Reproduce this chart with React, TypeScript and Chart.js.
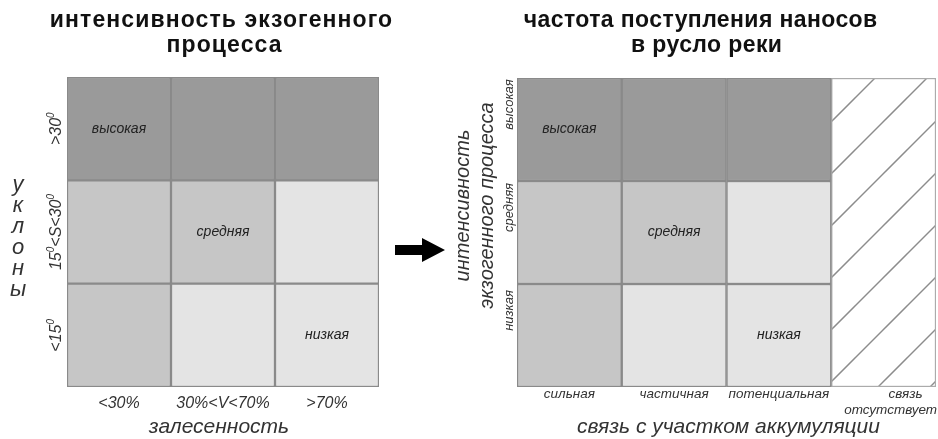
import React, { useEffect, useRef } from 'react';
import { Chart, registerables } from 'chart.js';

Chart.register(...registerables);

// ---------- data ----------
const forestCover = ['<30%', '30%<V<70%', '>70%'];
const slopeClasses = ['<15⁰', '15⁰<S<30⁰', '>30⁰']; // bottom → top
const intensityClasses = ['низкая', 'средняя', 'высокая']; // bottom → top
const connectionClasses: (string | string[])[] = ['сильная', 'частичная', 'потенциальная', ['связь', 'отсутствует']];
const levelNames = ['', 'низкая', 'средняя', 'высокая'];

// intensity level per cell (1 low, 2 medium, 3 high), rows bottom → top
const intensityRowLow = [2, 1, 1];
const intensityRowMid = [2, 2, 1];
const intensityRowHigh = [3, 3, 3];

// supply frequency level per cell (0 = no connection)
const supplyRowLow = [2, 1, 1, 0];
const supplyRowMid = [2, 2, 1, 0];
const supplyRowHigh = [3, 3, 3, 0];

const labelledCells = [
  { col: 0, row: 2 },
  { col: 1, row: 1 },
  { col: 2, row: 0 },
];

// ---------- styles ----------
const levelColors = ['#ffffff', '#e4e4e4', '#c6c6c6', '#9a9a9a'];
const gridColor = '#8a8a8a';
const FONT = '"Liberation Sans", Arial, sans-serif';

function txt(ctx: CanvasRenderingContext2D, s: string, x: number, y: number, font: string, color: string, rot = 0, spacing = 0) {
  ctx.save();
  ctx.translate(x, y);
  ctx.rotate(rot);
  ctx.font = font;
  ctx.fillStyle = color;
  ctx.textAlign = 'center';
  ctx.textBaseline = 'middle';
  (ctx as any).letterSpacing = `${spacing}px`;
  ctx.fillText(s, spacing / 2, 0);
  ctx.restore();
}

function drawRich(ctx: CanvasRenderingContext2D, text: string, x: number, y: number, size: number, rot: number, color: string) {
  ctx.save();
  ctx.translate(x, y);
  ctx.rotate(rot);
  ctx.fillStyle = color;
  const normal = `italic ${size}px ${FONT}`;
  const small = `italic ${Math.round(size * 0.62)}px ${FONT}`;
  const parts: { t: string; sup: boolean; w: number }[] = [];
  for (const ch of Array.from(text)) {
    const sup = ch === '⁰';
    const t = sup ? '0' : ch;
    const last = parts[parts.length - 1];
    if (last && last.sup === sup) last.t += t;
    else parts.push({ t, sup, w: 0 });
  }
  let total = 0;
  for (const p of parts) {
    ctx.font = p.sup ? small : normal;
    p.w = ctx.measureText(p.t).width;
    total += p.w;
  }
  let cx = -total / 2;
  ctx.textAlign = 'left';
  ctx.textBaseline = 'alphabetic';
  const base = size * 0.36;
  for (const p of parts) {
    ctx.font = p.sup ? small : normal;
    ctx.fillText(p.t, cx, p.sup ? base - size * 0.45 : base);
    cx += p.w;
  }
  ctx.restore();
}

function cellLabels(chart: any, rows: number[][]) {
  const { ctx, scales } = chart;
  for (const c of labelledCells) {
    const level = rows[c.row][c.col];
    txt(ctx, levelNames[level], scales.x.getPixelForValue(c.col), scales.y.getPixelForValue(c.row + 0.5), `italic 14px ${FONT}`, '#222');
  }
}

const leftRows = [intensityRowLow, intensityRowMid, intensityRowHigh];
const rightRows = [supplyRowLow, supplyRowMid, supplyRowHigh];

const leftPlugin = {
  id: 'leftTexts',
  afterDraw(chart: any) {
    const { ctx, chartArea: a, scales } = chart;
    const cx = (a.left + a.right) / 2;
    const midY = (a.top + a.bottom) / 2;
    txt(ctx, 'интенсивность экзогенного', cx - 2, 21, `bold 23px ${FONT}`, '#111', 0, 1.1);
    txt(ctx, 'процесса', cx + 1, 46, `bold 23px ${FONT}`, '#111', 0, 1.1);
    slopeClasses.forEach((s, i) => {
      drawRich(ctx, s, a.left - 12, scales.y.getPixelForValue(i + 0.5), 16, -Math.PI / 2, '#333');
    });
    const letters = Array.from('уклоны');
    letters.forEach((l, i) => {
      txt(ctx, l, 18, midY + 5 + (i - (letters.length - 1) / 2) * 21, `italic 22px ${FONT}`, '#333');
    });
    forestCover.forEach((s, i) => {
      txt(ctx, s, scales.x.getPixelForValue(i), a.bottom + 17, `italic 16px ${FONT}`, '#333');
    });
    txt(ctx, 'залесенность', cx - 4, a.bottom + 40, `italic 21px ${FONT}`, '#333');
    cellLabels(chart, leftRows);
    // arrow
    const ax = a.right + 16;
    const ay = midY + 18;
    ctx.save();
    ctx.fillStyle = '#000';
    ctx.beginPath();
    ctx.moveTo(ax, ay - 5);
    ctx.lineTo(ax + 27, ay - 5);
    ctx.lineTo(ax + 27, ay - 12);
    ctx.lineTo(ax + 50, ay);
    ctx.lineTo(ax + 27, ay + 12);
    ctx.lineTo(ax + 27, ay + 5);
    ctx.lineTo(ax, ay + 5);
    ctx.closePath();
    ctx.fill();
    ctx.restore();
  },
};

const rightPlugin = {
  id: 'rightTexts',
  afterDraw(chart: any) {
    const { ctx, chartArea: a, scales } = chart;
    const cx = (a.left + a.right) / 2;
    const midY = (a.top + a.bottom) / 2;
    txt(ctx, 'частота поступления наносов', cx - 26, 21, `bold 23px ${FONT}`, '#111', 0, 0.4);
    txt(ctx, 'в русло реки', cx - 20, 46, `bold 23px ${FONT}`, '#111', 0, 0.4);
    txt(ctx, 'интенсивность', a.left - 54, midY - 27, `italic 20px ${FONT}`, '#333', -Math.PI / 2);
    txt(ctx, 'экзогенного процесса', a.left - 30, midY - 27, `italic 20px ${FONT}`, '#333', -Math.PI / 2);
    intensityClasses.forEach((s, i) => {
      txt(ctx, s, a.left - 8, scales.y.getPixelForValue(i + 0.5) - 25, `italic 13px ${FONT}`, '#333', -Math.PI / 2);
    });
    connectionClasses.forEach((s, i) => {
      const x = scales.x.getPixelForValue(i);
      if (Array.isArray(s)) {
        txt(ctx, s[0], x + 22, a.bottom + 7, `italic 13.5px ${FONT}`, '#333');
        txt(ctx, s[1], x + 7, a.bottom + 23, `italic 13.5px ${FONT}`, '#333');
      } else {
        txt(ctx, s, x, a.bottom + 7, `italic 13.5px ${FONT}`, '#333');
      }
    });
    txt(ctx, 'связь с участком аккумуляции', cx + 2, a.bottom + 40, `italic 21px ${FONT}`, '#333');
    cellLabels(chart, rightRows);
  },
};

function makeHatch(): CanvasPattern | string {
  const t = document.createElement('canvas');
  t.width = 52;
  t.height = 52;
  const c = t.getContext('2d');
  if (!c) return '#fff';
  c.fillStyle = '#ffffff';
  c.fillRect(0, 0, 52, 52);
  c.strokeStyle = '#8c8c8c';
  c.lineWidth = 1.5;
  for (const k of [-15, 37, 89, 141]) {
    c.beginPath();
    c.moveTo(k + 2, -2);
    c.lineTo(-2, k + 2);
    c.stroke();
  }
  const p = c.createPattern(t, 'repeat');
  return p || '#fff';
}

function buildDatasets(rows: number[][]) {
  return rows.map((row, r) => ({
    data: row.map((lvl) => (lvl > 0 ? [r, r + 1] : null)),
    backgroundColor: row.map((lvl) => levelColors[lvl]),
    borderColor: gridColor,
    borderWidth: 1.5,
    borderSkipped: false as const,
    grouped: false,
    barPercentage: 1,
    categoryPercentage: 1,
  }));
}

function baseOptions(padding: any) {
  return {
    responsive: false,
    animation: false as const,
    layout: { padding },
    plugins: { legend: { display: false }, tooltip: { enabled: false }, title: { display: false } },
    scales: {
      x: { display: false, offset: true, grid: { display: false } },
      y: { display: false, min: 0, max: 3, grid: { display: false } },
    },
  };
}

export default function App() {
  const leftRef = useRef<HTMLCanvasElement>(null);
  const rightRef = useRef<HTMLCanvasElement>(null);

  useEffect(() => {
    if (!leftRef.current || !rightRef.current) return;
    const left = new Chart(leftRef.current, {
      type: 'bar',
      data: { labels: forestCover, datasets: buildDatasets(leftRows) as any },
      options: baseOptions({ left: 67, top: 77, right: 69, bottom: 52 }) as any,
      plugins: [leftPlugin],
    });

    const hatchRows = supplyRowLow.map((lvl) => (lvl === 0 ? [0, 3] : null));
    const right = new Chart(rightRef.current, {
      type: 'bar',
      data: {
        labels: connectionClasses.map((c) => (Array.isArray(c) ? c.join(' ') : c)),
        datasets: [
          ...(buildDatasets(rightRows) as any),
          {
            data: hatchRows,
            backgroundColor: makeHatch(),
            borderColor: '#ababab',
            borderWidth: 1.5,
            borderSkipped: false,
            grouped: false,
            barPercentage: 1,
            categoryPercentage: 1,
          },
        ],
      },
      options: baseOptions({ left: 69, top: 78, right: 2, bottom: 52 }) as any,
      plugins: [rightPlugin],
    });
    return () => {
      left.destroy();
      right.destroy();
    };
  }, []);

  return (
    <div style={{ position: 'fixed', left: 0, top: 0, width: 938, height: 439, background: '#fff' }}>
      <canvas ref={leftRef} width={448} height={439} style={{ position: 'absolute', left: 0, top: 0, width: 448, height: 439 }} />
      <canvas ref={rightRef} width={490} height={439} style={{ position: 'absolute', left: 448, top: 0, width: 490, height: 439 }} />
    </div>
  );
}
